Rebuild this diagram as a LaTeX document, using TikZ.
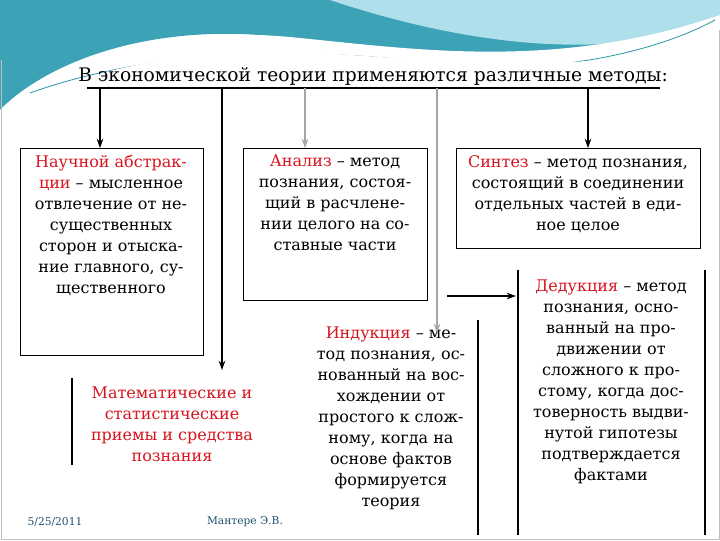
\documentclass[tikz,border=0pt]{standalone}
\usepackage{fontspec}
\setmainfont{DejaVu Serif}
\newfontfamily\ser{DejaVu Serif}
\usetikzlibrary{arrows.meta}
\definecolor{rd}{RGB}{215,20,30}
\definecolor{tealc}{RGB}{40,150,170}
\definecolor{lteal}{RGB}{140,210,225}
\definecolor{foot}{RGB}{30,80,110}
\tikzset{
 every node/.style={font=\ser},
 box/.style={draw,line width=0.9pt,inner sep=0pt},
 txt/.style={align=center,font=\ser\fontsize{12}{15.75}\selectfont,inner sep=0pt},
 arr/.style={-{Stealth[length=7pt,width=5pt]},line width=0.8pt},
 garr/.style={arr,draw=gray!70},
 vl/.style={line width=0.8pt},
}
\begin{document}
\begin{tikzpicture}[x=0.75pt,y=-0.75pt]
\useasboundingbox (0,0) rectangle (720,540);
\fill[white] (0,0) rectangle (720,540);
% header wave
\fill[tealc!80!lteal] (0,0) -- (720,0) -- (720,20) .. controls (600,70) and (450,70) .. (300,40) .. controls (180,20) and (60,50) .. (0,110) -- cycle;
\fill[lteal!70] (330,0) -- (720,0) -- (720,20) .. controls (620,60) and (480,50) .. (330,0) -- cycle;
\fill[white] (0,110) .. controls (60,50) and (180,25) .. (300,38) .. controls (420,50) and (560,70) .. (720,15) -- (720,40) .. controls (560,80) and (420,60) .. (300,50) .. controls (180,42) and (60,70) .. (0,115) -- cycle;
\draw[tealc,line width=0.6pt] (30,93) .. controls (150,50) and (300,45) .. (450,65) .. controls (560,75) and (660,50) .. (715,20);
\fill[white] (0,115) .. controls (60,75) and (180,48) .. (300,52) .. controls (430,58) and (560,80) .. (720,40) -- (720,540) -- (0,540) -- cycle;
\draw[gray!50,line width=0.6pt] (1,60) -- (1,539) -- (719,539) -- (719,30);
% title
\node[inner sep=0pt,font=\ser\fontsize{14}{18}\selectfont] (title) at (373,76) {В экономической теории применяются различные методы:};
\draw[line width=0.8pt] (87,88) coordinate (tl) -- (660,88) coordinate (tr);
\coordinate (c1) at (100,88); \coordinate (c2) at (222,88);
\coordinate (c3) at (305,88); \coordinate (c4) at (437,88);
\coordinate (c5) at (588,88);
% boxes
\node[box,minimum width=183*0.75pt,minimum height=207*0.75pt,anchor=north west] (b1) at (20,148) {};
\node[txt,anchor=north] at (111,155) {\textcolor{rd}{Научной абстрак-}\\\textcolor{rd}{ции} – мысленное\\отвлечение от не-\\существенных\\сторон и отыска-\\ние главного, су-\\щественного};
\node[box,minimum width=184*0.75pt,minimum height=152*0.75pt,anchor=north west] (b2) at (243,148) {};
\node[txt,anchor=north] at (335,155) {\textcolor{rd}{Анализ} – метод\\познания, состоя-\\щий в расчлене-\\нии целого на со-\\ставные части};
\node[box,minimum width=244*0.75pt,minimum height=100*0.75pt,anchor=north west] (b3) at (456,148) {};
\node[txt,anchor=north] at (578,155) {\textcolor{rd}{Синтез} – метод познания,\\состоящий в соединении\\отдельных частей в еди-\\ное целое};
% math
\node[txt,text=rd,anchor=north] (m) at (172,387) {Математические и\\статистические\\приемы и средства\\познания};
\draw[vl] (72,378) -- (72,465);
% induction
\node[txt,anchor=north] (ind) at (391,327) {\textcolor{rd}{Индукция} – ме-\\тод познания, ос-\\нованный на вос-\\хождении от\\простого к слож-\\ному, когда на\\основе фактов\\формируется\\теория};
\draw[vl] (478,320) -- (478,535);
% deduction
\node[txt,anchor=north] (ded) at (611,280) {\textcolor{rd}{Дедукция} – метод\\познания, осно-\\ванный на про-\\движении от\\сложного к про-\\стому, когда дос-\\товерность выдви-\\нутой гипотезы\\подтверждается\\фактами};
\draw[vl] (518,270) -- (518,535);
\draw[vl] (705,270) -- (705,535);
% connectors
\draw[arr] (c1) -- (b1.north -| c1);
\draw[arr] (c2) -- (222,370) coordinate (ma);
\draw[garr] (c3) -- (b2.north -| c3);
\draw[garr] (c4) -- (437,333) coordinate (ia);
\draw[arr] (c5) -- (b3.north -| c5);
\draw[arr] (447,296) coordinate (ds) -- (516,296);
% footer
\node[font=\ser\fontsize{8}{10}\selectfont,text=foot] (f1) at (55,522) {5/25/2011};
\node[font=\ser\fontsize{8}{10}\selectfont,text=foot] (f2) at (245,522) {Мантере Э.В.};
\end{tikzpicture}
\end{document}
